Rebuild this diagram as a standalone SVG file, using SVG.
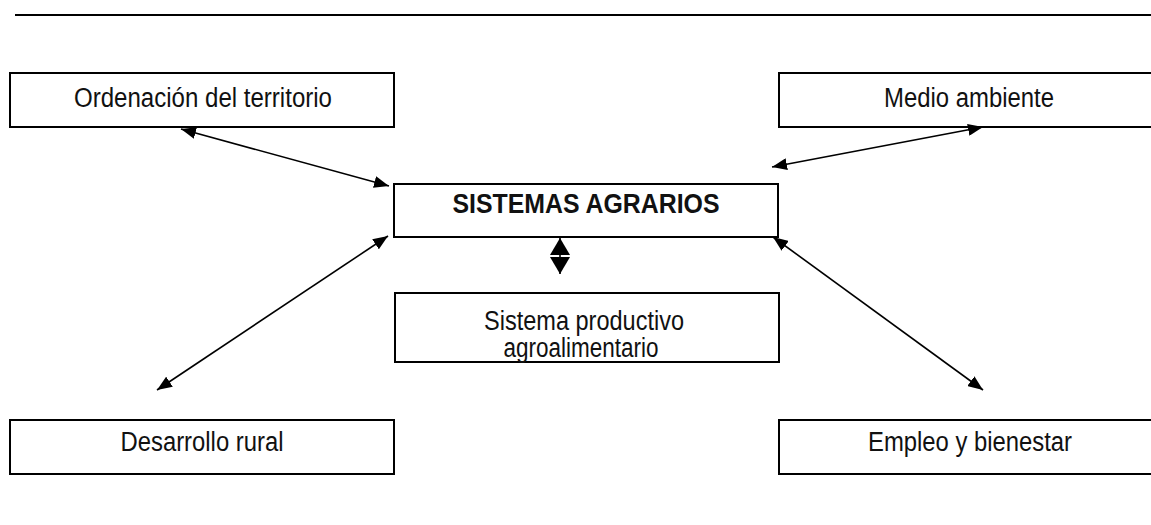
<svg xmlns="http://www.w3.org/2000/svg" width="1151" height="525" viewBox="0 0 1151 525">
<defs>
<style>
.box{fill:#fff;stroke:#000;stroke-width:2}
.lbl{font-family:"Liberation Sans Narrow","Liberation Sans",Arial,sans-serif;font-size:27px;fill:#111;text-anchor:middle}
.bold{font-weight:bold}
.con{stroke:#000;stroke-width:1.6;fill:none}
</style>
<marker id="ah" markerUnits="userSpaceOnUse" markerWidth="16" markerHeight="12" refX="15" refY="6" orient="auto-start-reverse" viewBox="0 0 16 12">
<path d="M0,0 L15,6 L0,12 z" fill="#000"/>
</marker>
<marker id="ahc" markerUnits="userSpaceOnUse" markerWidth="18" markerHeight="20" refX="17" refY="10" orient="auto-start-reverse" viewBox="0 0 18 20">
<path d="M0,0 L17,10 L0,20 z" fill="#000"/>
</marker>
</defs>
<rect width="1151" height="525" fill="#fff"/>
<line x1="15" y1="15" x2="1151" y2="15" stroke="#000" stroke-width="2"/>
<g id="n-ordenacion">
<rect class="box" x="10" y="73" width="384" height="54"/>
<text class="lbl" x="203" y="107" textLength="258" lengthAdjust="spacingAndGlyphs">Ordenación del territorio</text>
</g>
<g id="n-medio">
<rect class="box" x="779" y="73" width="390" height="54"/>
<text class="lbl" x="969" y="107" textLength="170" lengthAdjust="spacingAndGlyphs">Medio ambiente</text>
</g>
<g id="n-sistemas">
<rect class="box" x="394" y="184" width="384" height="53"/>
<text class="lbl bold" x="586" y="213" textLength="267" lengthAdjust="spacingAndGlyphs">SISTEMAS AGRARIOS</text>
</g>
<g id="n-productivo">
<rect class="box" x="395" y="293" width="384" height="69"/>
<text class="lbl" x="584" y="330" textLength="200" lengthAdjust="spacingAndGlyphs">Sistema productivo</text>
<text class="lbl" x="581" y="357" textLength="155" lengthAdjust="spacingAndGlyphs">agroalimentario</text>
</g>
<g id="n-desarrollo">
<rect class="box" x="10" y="420" width="384" height="54"/>
<text class="lbl" x="202" y="451" textLength="163" lengthAdjust="spacingAndGlyphs">Desarrollo rural</text>
</g>
<g id="n-empleo">
<rect class="box" x="779" y="420" width="390" height="54"/>
<text class="lbl" x="970" y="451" textLength="204" lengthAdjust="spacingAndGlyphs">Empleo y bienestar</text>
</g>
<g id="connectors">
<line class="con" x1="181" y1="129" x2="389" y2="186" marker-start="url(#ah)" marker-end="url(#ah)"/>
<line class="con" x1="772" y1="167" x2="983" y2="127" marker-start="url(#ah)" marker-end="url(#ah)"/>
<line class="con" x1="157" y1="390" x2="388" y2="236" marker-start="url(#ah)" marker-end="url(#ah)"/>
<line class="con" x1="773" y1="237" x2="983" y2="390" marker-start="url(#ah)" marker-end="url(#ah)"/>
<line class="con" x1="560" y1="238" x2="560" y2="274" marker-start="url(#ahc)" marker-end="url(#ahc)"/>
</g>
</svg>
